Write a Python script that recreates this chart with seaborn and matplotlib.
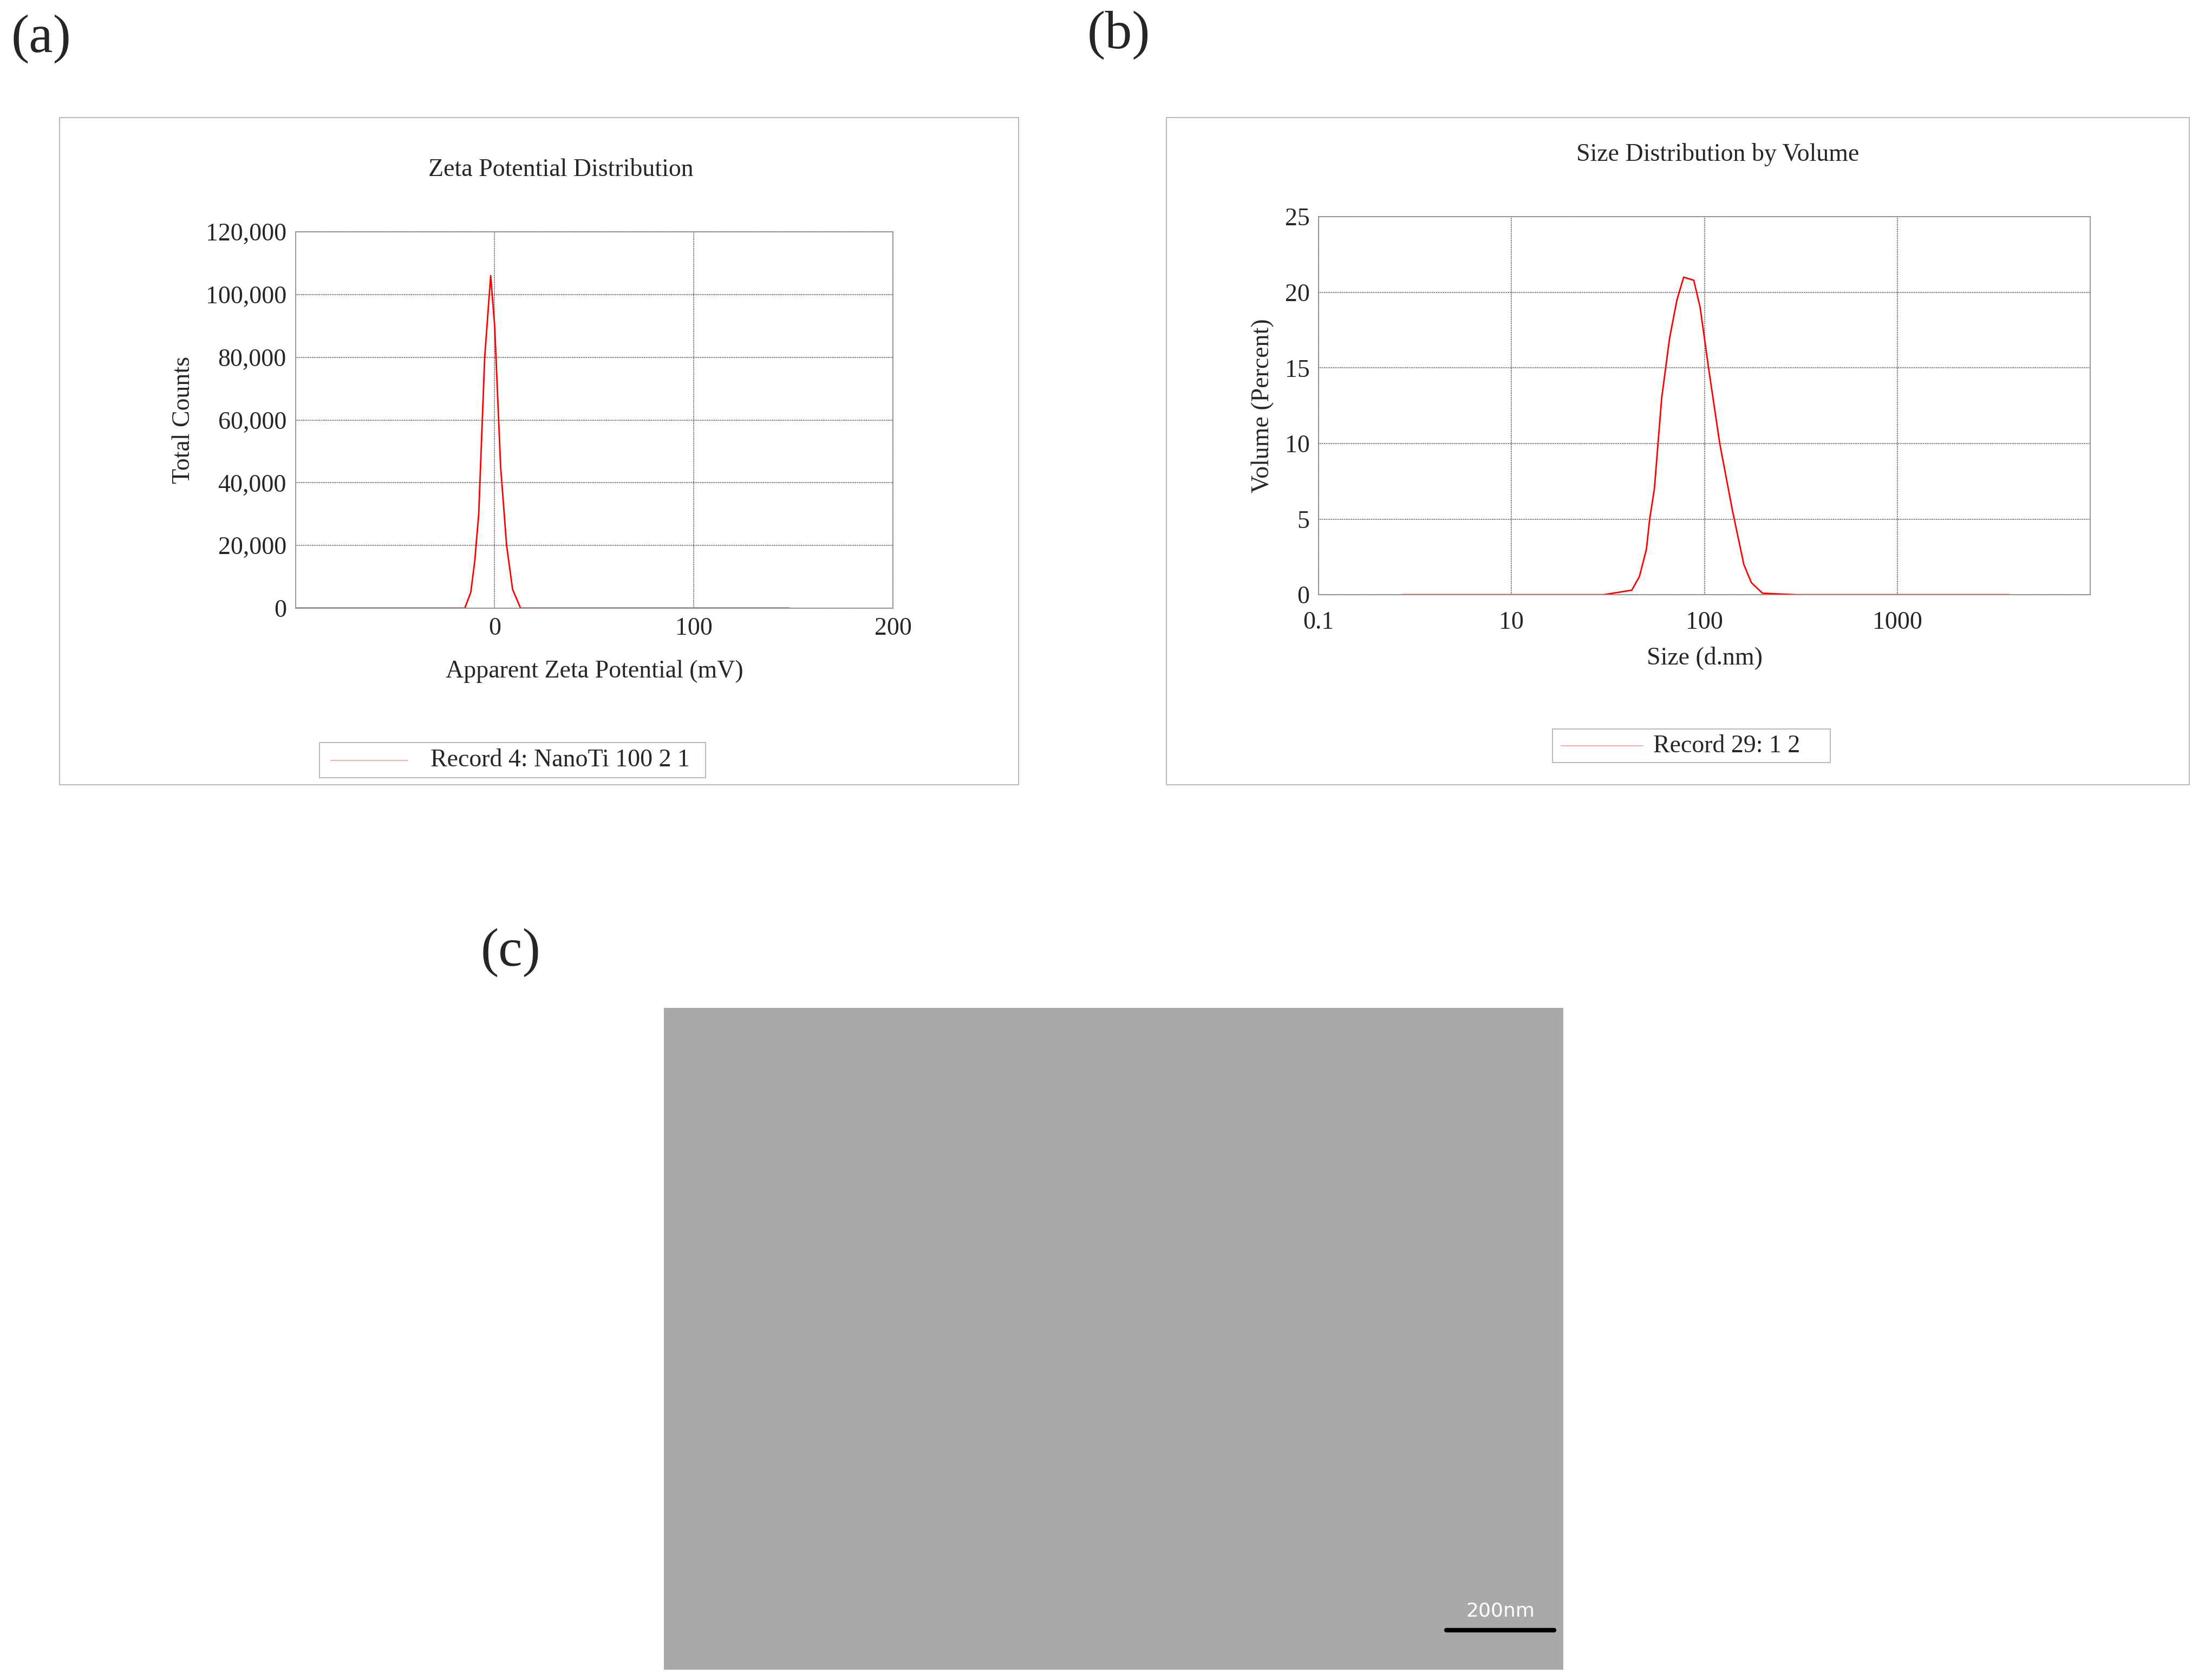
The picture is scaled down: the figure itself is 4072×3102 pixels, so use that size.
import numpy as np
import pandas as pd
import matplotlib
matplotlib.use("Agg")
import matplotlib.pyplot as plt
from matplotlib.patches import Rectangle
from matplotlib.lines import Line2D
from matplotlib.ticker import FuncFormatter, FixedLocator, LogLocator, NullFormatter
import seaborn as sns

### data
zeta_mv = [-100, -40, -15, -12, -10, -8, -5, -2, 0, 3, 6, 9, 13, 20, 60, 100, 148]
zeta_counts = [0, 0, 0, 5000, 15000, 30000, 80000, 106000, 90000, 45000, 20000, 6000, 0, 0, 0, 0, 0]

size_nm = [2.7, 10, 30, 42, 46, 50, 52, 55, 60, 66, 72, 78, 88, 95, 105, 120, 140, 160, 175, 200, 300, 1000, 3800]
size_vol = [0, 0, 0, 0.3, 1.2, 3, 5, 7, 13, 17, 19.5, 21, 20.8, 19, 15, 10, 5.5, 2, 0.8, 0.1, 0, 0, 0]
size_ticks = [1, 10, 100, 1000]
size_tick_labels = ['0.1', '10', '100', '1000']

sns.set_style("white")
plt.rcParams['font.family'] = ['Liberation Serif', 'DejaVu Serif']

fig = plt.figure(figsize=(40.72, 31.02), dpi=100)
fs = 33
grey = '#888888'

def panel_box(x0, y0, x1, y1):
    fig.patches.append(Rectangle((x0, y0), x1 - x0, y1 - y0, transform=fig.transFigure,
                                 fill=False, edgecolor='#bbbbbb', lw=1.5))

def legend_box(x0, y0, x1, y1, text, lx0, lx1, tx):
    fig.patches.append(Rectangle((x0, y0), x1 - x0, y1 - y0, transform=fig.transFigure,
                                 fill=False, edgecolor='#bbbbbb', lw=1.5))
    ym = (y0 + y1) / 2
    fig.lines.append(Line2D([lx0, lx1], [ym, ym], transform=fig.transFigure, color='#ff9999', lw=1.2))
    fig.text(tx, ym, text, ha='center', va='center', fontsize=fs)

def style_axes(ax):
    for s in ax.spines.values():
        s.set_color(grey)
        s.set_linewidth(1.2)
    ax.grid(True, color='#444444', linestyle=(0, (1, 1)), lw=1.2)
    ax.tick_params(labelsize=fs, length=0, pad=12)

### (a) zeta potential
panel_box(0.027, 0.533, 0.462, 0.930)
ax1 = fig.add_axes([0.134, 0.638, 0.271, 0.224])
df_a = pd.DataFrame({'mv': zeta_mv, 'counts': zeta_counts})
sns.lineplot(data=df_a, x='mv', y='counts', color='red', lw=2, ax=ax1)
ax1.set_xlim(-100, 200)
ax1.set_ylim(0, 120000)
ax1.set_xticks([0, 100, 200])
ax1.set_yticks(range(0, 120001, 20000))
ax1.yaxis.set_major_formatter(FuncFormatter(lambda v, p: f"{int(v):,}"))
style_axes(ax1)
ax1.set_xlabel('Apparent Zeta Potential (mV)', fontsize=fs, labelpad=26)
ax1.set_ylabel('Total Counts', fontsize=fs, labelpad=14)
fig.text(0.2545, 0.899, 'Zeta Potential Distribution', fontsize=fs, ha='center', va='center')
legend_box(0.145, 0.537, 0.320, 0.558, 'Record 4: NanoTi 100 2 1', 0.150, 0.185, 0.254)

### (b) size distribution
panel_box(0.529, 0.533, 0.993, 0.930)
ax2 = fig.add_axes([0.598, 0.646, 0.350, 0.225])
df_b = pd.DataFrame({'size': size_nm, 'vol': size_vol})
sns.lineplot(data=df_b, x='size', y='vol', color='red', lw=2, ax=ax2)
ax2.set_xscale('log')
ax2.set_xlim(1, 10000)
ax2.set_ylim(0, 25)
ax2.set_yticks(range(0, 26, 5))
ax2.xaxis.set_major_locator(FixedLocator(size_ticks))
ax2.set_xticklabels(size_tick_labels)
style_axes(ax2)
ax2.tick_params(axis='x', which='major', pad=22)
ax2.xaxis.set_minor_locator(LogLocator(base=10, subs=np.arange(2, 10)))
ax2.xaxis.set_minor_formatter(NullFormatter())
ax2.tick_params(axis='x', which='minor', length=8, color=grey, direction='in')
ax2.set_xlabel('Size (d.nm)', fontsize=fs, labelpad=16)
ax2.set_ylabel('Volume (Percent)', fontsize=fs, labelpad=14)
fig.text(0.779, 0.908, 'Size Distribution by Volume', fontsize=fs, ha='center', va='center')
legend_box(0.704, 0.546, 0.830, 0.566, 'Record 29: 1 2', 0.708, 0.745, 0.783)

### (c) micrograph placeholder
ax3 = fig.add_axes([0.301, 0.006, 0.408, 0.394])
ax3.set_facecolor('#a9a9a9')
ax3.set_xticks([])
ax3.set_yticks([])
for s in ax3.spines.values():
    s.set_visible(False)
ax3.plot([0.87, 0.99], [0.06, 0.06], transform=ax3.transAxes, color='black', lw=6)
ax3.text(0.93, 0.075, '200nm', transform=ax3.transAxes, ha='center', va='bottom',
         fontsize=26, color='white', family='DejaVu Sans')

fig.text(0.005, 0.977, '(a)', fontsize=72, va='center')
fig.text(0.493, 0.979, '(b)', fontsize=72, va='center')
fig.text(0.218, 0.433, '(c)', fontsize=72, va='center')

fig.savefig('out.png', dpi=100)
